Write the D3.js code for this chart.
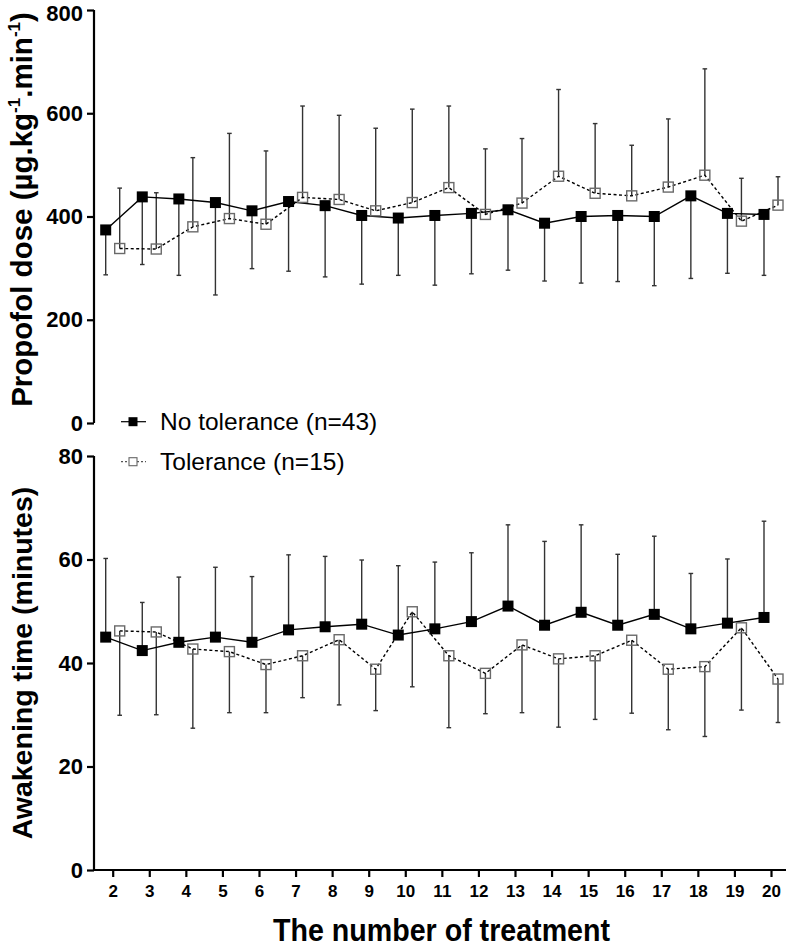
<!DOCTYPE html>
<html>
<head>
<meta charset="utf-8">
<script src="https://cdn.jsdelivr.net/npm/d3@7"></script>
<style>
  html, body { margin: 0; padding: 0; background: #fff; }
  svg { display: block; }
  text { font-family: "Liberation Sans", Arial, sans-serif; }
</style>
</head>
<body>
<svg id="chart" width="787" height="947"></svg>
<script>
// ---------- data ----------
const treatments = [2,3,4,5,6,7,8,9,10,11,12,13,14,15,16,17,18,19,20];

const doseNoTol   = [374,438,434,427,411,429,421,402,397,402,406,413,387,400,402,400,440,406,404];
const doseNoTolSD = [87,131,148,179,112,135,138,133,111,135,117,117,112,129,128,134,160,116,118];
const doseTol     = [338,337,380,396,385,437,433,411,427,456,404,426,478,445,440,457,480,391,422];
const doseTolSD   = [117,109,134,165,142,177,163,160,181,158,127,125,168,135,98,132,206,83,55];

const awakeNoTol   = [45.0,42.4,44.0,45.0,44.0,46.4,47.0,47.5,45.4,46.6,48.0,51.0,47.3,49.8,47.3,49.4,46.6,47.7,48.8];
const awakeNoTolSD = [15.2,9.3,12.6,13.5,12.7,14.5,13.6,12.4,13.4,12.9,13.3,15.7,16.2,16.9,13.7,15.1,10.7,12.4,18.6];
const awakeTol     = [46.2,46.0,42.7,42.2,39.7,41.4,44.5,38.8,49.9,41.4,38.0,43.5,40.8,41.4,44.4,38.8,39.3,46.8,36.9];
const awakeTolSD   = [16.3,16.0,15.3,11.8,9.3,8.1,12.6,8.0,14.5,13.9,7.8,13.1,13.2,12.3,14.1,11.7,13.5,15.9,8.4];

const doseTicks  = [0,200,400,600,800];
const awakeTicks = [0,20,40,60,80];
const seriesNames = ["No tolerance (n=43)", "Tolerance (n=15)"];

// ---------- layout ----------
const svg = d3.select("#chart");
const axisX = 94, xRight = 786;
const x = d3.scaleLinear().domain([2,20]).range([112.7, 771]);
const offset = 7;
const yDose  = d3.scaleLinear().domain([0,800]).range([423, 10]);
const yAwake = d3.scaleLinear().domain([0,80]).range([870, 456]);
const msize = 11;
const FONT = '"Liberation Sans", Arial, sans-serif';

// dirNo / dirTo: +1 = error bar upward (mean + SD), -1 = downward (mean - SD)
function drawPanel(y, ticks, noTol, noTolSD, tol, tolSD, dirNo, dirTo) {
  const g = svg.append("g");
  const ax = g.append("g").attr("transform", `translate(${axisX},0)`)
    .call(d3.axisLeft(y).tickValues(ticks).tickSize(7).tickPadding(4).tickFormat(d3.format("d")));
  ax.select(".domain").attr("stroke", "#000").attr("stroke-width", 2.2).attr("d", `M0,${y(0)}V${y(ticks[ticks.length-1])}`);
  ax.selectAll(".tick line").attr("stroke", "#000").attr("stroke-width", 2.2);
  ax.selectAll(".tick text").attr("font-family", FONT).attr("font-weight", "bold").attr("font-size", 22).attr("fill", "#000")
    .attr("y", d => (y(d) < 12 ? 3 : 0));   // keep the topmost label inside the frame
  const dNo = treatments.map((t,i) => ({t, v: noTol[i], sd: noTolSD[i]}));
  const dTo = treatments.map((t,i) => ({t, v: tol[i], sd: tolSD[i]}));

  const eb = g.append("g").attr("stroke", "#333").attr("stroke-width", 1.4);
  function bars(data, dx, dir) {
    data.forEach(d => {
      const cx = x(d.t) + dx;
      const end = y(d.v + dir * d.sd);
      eb.append("line").attr("x1", cx).attr("x2", cx).attr("y1", y(d.v)).attr("y2", end);
      eb.append("line").attr("x1", cx-2.3).attr("x2", cx+2.3).attr("y1", end).attr("y2", end);
    });
  }
  bars(dNo, -offset, dirNo);
  bars(dTo, offset, dirTo);

  g.append("path").datum(dNo)
    .attr("fill", "none").attr("stroke", "#000").attr("stroke-width", 1.4)
    .attr("d", d3.line().x(d => x(d.t) - offset).y(d => y(d.v)));
  g.append("path").datum(dTo)
    .attr("fill", "none").attr("stroke", "#000").attr("stroke-width", 1.4).attr("stroke-dasharray", "3,2.5")
    .attr("d", d3.line().x(d => x(d.t) + offset).y(d => y(d.v)));

  g.append("g").selectAll("rect").data(dNo).join("rect")
    .attr("x", d => x(d.t) - offset - msize/2).attr("y", d => y(d.v) - msize/2)
    .attr("width", msize).attr("height", msize).attr("fill", "#000");
  g.append("g").selectAll("rect").data(dTo).join("rect")
    .attr("x", d => x(d.t) + offset - msize/2 + 0.5).attr("y", d => y(d.v) - msize/2 + 0.5)
    .attr("width", msize - 1).attr("height", msize - 1)
    .attr("fill", "none").attr("stroke", "#6a6a6a").attr("stroke-width", 1.4);
  return g;
}

drawPanel(yDose, doseTicks, doseNoTol, doseNoTolSD, doseTol, doseTolSD, -1, +1);
drawPanel(yAwake, awakeTicks, awakeNoTol, awakeNoTolSD, awakeTol, awakeTolSD, +1, -1);

// x axis (bottom panel)
const xa = svg.append("g").attr("transform", `translate(0,${yAwake(0)})`)
  .call(d3.axisBottom(x).tickValues(treatments).tickSize(7).tickPadding(8).tickFormat(d3.format("d")));
xa.select(".domain").attr("stroke", "#000").attr("stroke-width", 2.2).attr("d", `M${axisX},0H${xRight}`);
xa.selectAll(".tick line").attr("stroke", "#000").attr("stroke-width", 2.2);
xa.selectAll(".tick text").attr("font-family", FONT).attr("font-weight", "bold").attr("font-size", 17).attr("fill", "#000");

// axis titles
svg.append("text")
  .attr("transform", `translate(32,${(yDose(0)+yDose(800))/2 - 7}) rotate(-90)`)
  .attr("text-anchor", "middle").attr("font-weight", "bold").attr("font-size", 29.5).attr("fill", "#000")
  .call(t => {
    t.append("tspan").text("Propofol dose (µg.kg");
    t.append("tspan").text("-1").attr("font-size", 17).attr("dy", -12);
    t.append("tspan").text(".min").attr("dy", 12);
    t.append("tspan").text("-1").attr("font-size", 17).attr("dy", -12);
    t.append("tspan").text(")").attr("dy", 12);
  });
svg.append("text")
  .attr("transform", `translate(32,${(yAwake(0)+yAwake(80))/2}) rotate(-90)`)
  .attr("text-anchor", "middle").attr("font-weight", "bold").attr("font-size", 28.5).attr("fill", "#000")
  .text("Awakening time (minutes)");
svg.append("text")
  .attr("x", 441.5).attr("y", 941)
  .attr("text-anchor", "middle").attr("font-weight", "bold").attr("font-size", 30.5).attr("fill", "#000")
  .attr("textLength", 337).attr("lengthAdjust", "spacingAndGlyphs")
  .text("The number of treatment");

// legend
const leg = svg.append("g");
const legY = [421.7, 461.7];
seriesNames.forEach((name, i) => {
  const gy = legY[i];
  leg.append("line").attr("x1", 121).attr("x2", 146).attr("y1", gy).attr("y2", gy)
    .attr("stroke", i === 0 ? "#000" : "#555").attr("stroke-width", 1.2)
    .attr("stroke-dasharray", i === 0 ? null : "2,2");
  if (i === 0) {
    leg.append("rect").attr("x", 128.5).attr("y", gy - 4.5).attr("width", 9).attr("height", 9).attr("fill", "#000");
  } else {
    leg.append("rect").attr("x", 129).attr("y", gy - 4).attr("width", 8).attr("height", 8)
      .attr("fill", "#fff").attr("stroke", "#666").attr("stroke-width", 1.1);
  }
  leg.append("text").attr("x", 160).attr("y", gy + 8.5).attr("font-size", 24.5).attr("fill", "#000").text(name);
});
</script>
</body>
</html>
